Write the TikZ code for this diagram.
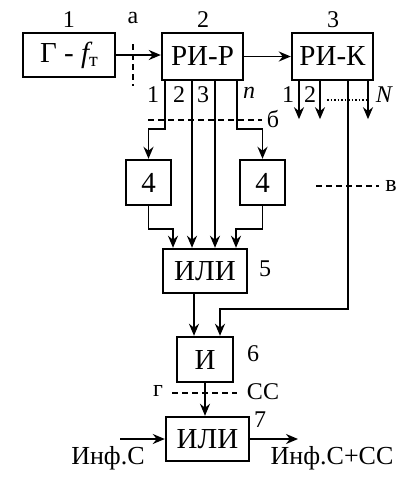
\documentclass[tikz,border=0pt]{standalone}
\usepackage{fontspec}
\setmainfont{Liberation Serif}
\usetikzlibrary{arrows.meta}
\begin{document}
\begin{tikzpicture}[x=1pt,y=-1pt,
  blk/.style={draw,line width=2.4pt,minimum width=#1,inner sep=0pt,font=\fontsize{29}{30}\selectfont},
  lbl/.style={inner sep=0pt,font=\fontsize{24}{26}\selectfont},
  conn/.style={line width=1.9pt,-{Stealth[length=12pt,width=10pt]}},
  dsh/.style={line width=1.5pt,dash pattern=on 6pt off 4pt}]
\useasboundingbox (0,0) rectangle (408,491);
% blocks
\node[blk=92pt,minimum height=44pt] (g) at (69,55) {Г - {\itshape f}\raisebox{-0.35ex}{\fontsize{20}{20}\selectfont т}};
\node[blk=81pt,minimum height=47pt] (rp) at (202.5,56.5) {РИ-Р};
\node[blk=81pt,minimum height=47pt] (rk) at (332.5,56.5) {РИ-К};
\node[blk=45pt,minimum height=45pt] (b4l) at (148.5,182.5) {4};
\node[blk=45pt,minimum height=45pt] (b4r) at (262.5,182.5) {4};
\node[blk=84pt,minimum height=44pt] (or5) at (205,271) {ИЛИ};
\node[blk=56pt,minimum height=45pt] (and6) at (205,359.5) {И};
\node[blk=83pt,minimum height=44pt] (or7) at (207.5,439) {ИЛИ};
% labels
\node[lbl] (l1) at (69,20) {1};
\node[lbl] (la) at (133,18) {а};
\node[lbl] (l2) at (203,20) {2};
\node[lbl] (l3) at (333,20) {3};
\node[lbl] (o1) at (153,95) {1};
\node[lbl] (o2) at (179,95) {2};
\node[lbl] (o3) at (203,95) {3};
\node[lbl] (on) at (249,93) {\itshape n};
\node[lbl] (k1) at (288,95) {1};
\node[lbl] (k2) at (310,95) {2};
\node[lbl] (kN) at (384,95) {\itshape N};
\node[lbl] (lb) at (273,119) {б};
\node[lbl] (lv) at (391,186) {в};
\node[lbl] (l5) at (265,269) {5};
\node[lbl] (l6) at (253,354) {6};
\node[lbl] (lg) at (158,391) {г};
\node[lbl] (lcc) at (263,392) {СС};
\node[lbl] (l7) at (260,420) {7};
\node[lbl,font=\fontsize{26}{28}\selectfont] (linf) at (108,458) {Инф.С};
\node[lbl,font=\fontsize{26}{28}\selectfont] (lout) at (332,458) {Инф.С+СС};
\coordinate (in) at (120,439);
\coordinate (out) at (298,439);
% connectors
\draw[conn] (g.east) -- (rp.west |- g.east);
\draw[conn] (rp.east) -- (rk.west);
\draw[conn] ([xshift=-37.5pt]rp.south) -- ++(0,48) -| (b4l.north);
\draw[conn] ([xshift=34.5pt]rp.south) -- ++(0,48) -| (b4r.north);
\draw[conn] ([xshift=-10.5pt]rp.south) -- ([xshift=-10.5pt]rp.south |- or5.north);
\draw[conn] ([xshift=12.5pt]rp.south) -- ([xshift=12.5pt]rp.south |- or5.north);
\draw[conn] (b4l.south) -- ++(0,23) -| ([xshift=-32pt]or5.north);
\draw[conn] (b4r.south) -- ++(0,23) -| ([xshift=31pt]or5.north);
\draw[conn] ([xshift=-11pt]or5.south) -- ([xshift=-11pt]or5.south |- and6.north);
\draw[conn] ([xshift=15.5pt]rk.south) -- ++(0,228) -| ([xshift=15pt]and6.north);
\draw[conn] (and6.south) -- (and6.south |- or7.north);
\draw[conn] (in) -- (or7.west);
\draw[conn] (or7.east) -- (out);
\draw[conn] ([xshift=-33.5pt]rk.south) -- ++(0,38);
\draw[conn] ([xshift=-12.5pt]rk.south) -- ++(0,38);
\draw[conn] ([xshift=35.5pt]rk.south) -- ++(0,38);
% dashed / dotted markers
\draw[dsh] (133,44) -- (133,86);
\draw[dsh] (148,120) -- (262,120);
\draw[dsh] (316,186) -- (379,186);
\draw[dsh] (172,393) -- (237,393);
\draw[line width=1.5pt,dotted] (327,100) -- (366,100);
\end{tikzpicture}
\end{document}
